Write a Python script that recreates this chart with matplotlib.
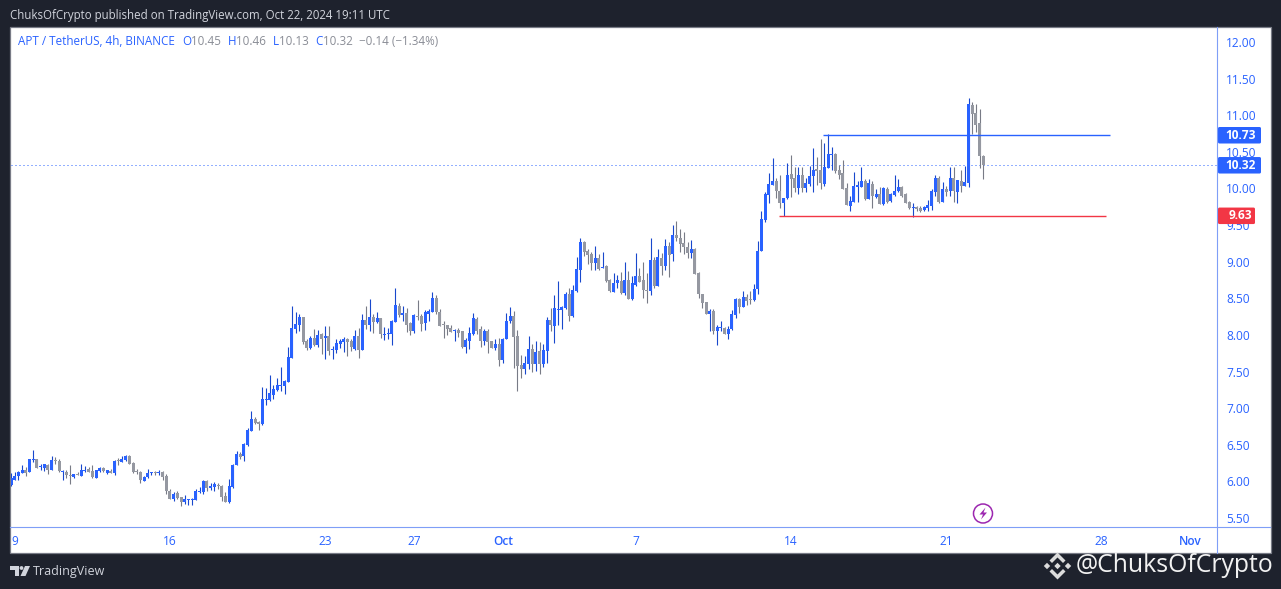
from datetime import datetime, timedelta
import matplotlib
matplotlib.use("Agg")
import matplotlib.pyplot as plt
from matplotlib.patches import Rectangle, Circle, Polygon, FancyBboxPatch

plt.rcParams['font.family'] = ['Open Sans', 'DejaVu Sans']

opens = [5.95,6.02,6.07,6.11,6.15,6.13,6.29,6.30,6.20,6.18,
6.22,6.16,6.29,6.28,6.13,6.13,6.09,6.06,6.10,6.07,
6.14,6.17,6.14,6.05,6.14,6.18,6.11,6.14,6.11,6.29,
6.27,6.29,6.35,6.25,6.14,6.13,6.01,6.06,6.11,6.13,
6.11,6.13,6.07,5.87,5.76,5.84,5.78,5.72,5.74,5.74,
5.75,5.85,5.85,6.01,5.91,5.92,5.95,5.94,5.80,5.72,
5.92,6.22,6.37,6.35,6.50,6.69,6.85,6.81,6.78,7.11,
7.11,7.18,7.25,7.30,7.30,7.36,7.68,8.08,8.14,8.24,
7.92,7.82,7.96,7.86,8.01,7.96,7.98,7.79,7.79,7.88,
7.90,7.94,7.92,7.81,7.98,7.79,8.20,8.14,8.24,8.18,
8.23,8.00,8.01,8.01,8.18,8.39,8.27,8.30,8.16,8.05,
8.26,8.26,8.16,8.29,8.31,8.50,8.31,8.15,8.14,8.09,
8.06,8.07,8.05,7.83,7.92,8.01,8.22,8.08,7.92,8.05,
7.92,7.82,7.88,7.66,7.94,8.19,8.26,7.98,7.59,7.53,
7.60,7.81,7.60,7.78,7.60,7.78,8.20,8.12,8.34,8.34,
8.37,8.56,8.26,8.60,8.89,9.27,9.15,9.11,8.98,9.05,
8.91,8.94,8.75,8.59,8.71,8.74,8.57,8.75,8.49,8.68,
8.80,8.75,8.61,8.60,9.02,8.67,9.05,8.94,9.21,9.11,
9.36,9.32,9.26,9.20,9.12,9.17,8.85,8.56,8.45,8.29,
8.33,8.05,8.09,8.09,8.01,8.08,8.27,8.49,8.38,8.52,
8.49,8.48,8.63,9.15,9.57,9.91,10.05,10.10,9.97,9.80,
9.87,10.20,10.14,10.01,10.18,10.01,10.06,10.17,10.27,10.25,
10.06,10.28,10.46,10.47,10.25,10.21,10.01,9.76,9.82,10.02,
10.02,10.10,9.86,10.06,9.88,9.92,9.79,9.99,9.83,9.91,
9.97,10.02,9.92,9.82,9.73,9.75,9.73,9.71,9.73,9.76,
9.95,10.14,9.82,9.99,9.97,10.14,9.95,10.10,10.03,10.07,11.14,11.03,10.89,10.45]

closes = [6.04,6.07,6.13,6.16,6.12,6.30,6.30,6.18,6.21,6.24,
6.16,6.29,6.28,6.14,6.14,6.09,6.08,6.10,6.09,6.16,
6.16,6.13,6.06,6.16,6.18,6.14,6.15,6.11,6.28,6.28,
6.31,6.34,6.24,6.13,6.13,6.02,6.06,6.11,6.13,6.11,
6.13,6.06,5.87,5.76,5.83,5.77,5.72,5.76,5.75,5.75,
5.87,5.87,6.01,5.91,5.94,5.96,5.94,5.79,5.72,5.94,
6.22,6.37,6.33,6.51,6.70,6.85,6.80,6.78,7.12,7.12,
7.21,7.26,7.32,7.32,7.37,7.70,8.09,8.15,8.24,7.90,
7.82,7.96,7.86,8.00,7.94,7.98,7.78,7.81,7.89,7.92,
7.94,7.90,7.83,7.98,7.79,8.20,8.14,8.24,8.18,8.23,
8.01,8.01,8.03,8.19,8.41,8.27,8.30,8.14,8.05,8.27,
8.24,8.15,8.31,8.33,8.50,8.31,8.12,8.14,8.08,8.04,
8.07,8.03,7.83,7.93,8.03,8.23,8.05,7.92,8.05,7.90,
7.82,7.88,7.66,7.94,8.19,8.26,7.97,7.58,7.53,7.62,
7.81,7.60,7.77,7.60,7.79,8.20,8.14,8.37,8.35,8.38,
8.56,8.26,8.61,8.90,9.27,9.13,9.09,8.98,9.05,8.90,
8.93,8.74,8.60,8.71,8.75,8.57,8.75,8.49,8.71,8.80,
8.72,8.61,8.60,9.02,8.67,9.06,8.94,9.21,9.09,9.36,
9.32,9.24,9.20,9.12,9.17,8.83,8.56,8.44,8.29,8.33,
8.05,8.11,8.11,8.01,8.08,8.29,8.49,8.38,8.52,8.46,
8.48,8.63,9.15,9.58,9.92,10.06,10.10,9.97,9.80,9.87,
10.18,10.13,10.01,10.18,10.01,10.07,10.17,10.25,10.24,10.07,
10.29,10.47,10.47,10.24,10.18,9.99,9.77,9.83,10.03,10.05,
10.10,9.86,10.07,9.90,9.92,9.79,10.01,9.82,9.92,9.97,
10.02,9.90,9.80,9.73,9.75,9.72,9.69,9.75,9.77,9.97,
10.14,9.82,9.99,9.95,10.14,9.97,10.12,10.03,10.09,11.15,11.02,10.87,10.44,10.32]

highs = [6.12,6.13,6.14,6.22,6.19,6.30,6.43,6.30,6.24,6.24,
6.24,6.34,6.33,6.31,6.16,6.16,6.22,6.10,6.13,6.24,
6.21,6.20,6.22,6.16,6.20,6.20,6.16,6.17,6.29,6.32,
6.35,6.36,6.36,6.26,6.17,6.14,6.07,6.17,6.13,6.14,
6.16,6.14,6.10,5.90,5.85,5.87,5.78,5.81,5.76,5.77,
5.90,5.92,6.02,6.02,5.98,5.99,5.98,5.95,5.85,6.03,
6.24,6.41,6.40,6.52,6.73,6.96,6.88,6.82,7.29,7.27,
7.45,7.32,7.41,7.56,7.38,7.84,8.39,8.31,8.29,8.24,
7.94,7.98,8.08,8.07,8.03,8.12,8.12,7.85,7.94,7.94,
7.97,7.96,7.94,8.07,8.09,8.29,8.39,8.49,8.29,8.31,
8.23,8.11,8.09,8.20,8.64,8.44,8.39,8.37,8.18,8.29,
8.48,8.29,8.34,8.35,8.59,8.55,8.35,8.19,8.14,8.14,
8.08,8.09,8.05,7.96,8.11,8.30,8.24,8.12,8.08,8.08,
7.92,7.94,7.96,7.96,8.30,8.38,8.33,8.07,7.73,7.71,
7.98,7.88,7.92,7.90,7.88,8.24,8.37,8.55,8.74,8.40,
8.59,8.64,8.68,9.06,9.32,9.28,9.17,9.13,9.21,9.11,
9.13,8.96,8.76,8.85,8.82,8.86,9.00,8.87,8.80,9.12,
8.91,9.00,8.85,9.32,9.06,9.17,9.12,9.31,9.27,9.50,
9.56,9.45,9.41,9.27,9.30,9.19,8.86,8.56,8.45,8.35,
8.35,8.14,8.19,8.11,8.12,8.34,8.50,8.50,8.60,8.56,
8.60,8.70,9.28,9.69,9.95,10.21,10.42,10.14,10.18,9.87,
10.35,10.46,10.29,10.29,10.29,10.14,10.31,10.55,10.43,10.68,
10.62,10.74,10.57,10.48,10.32,10.39,10.07,9.90,10.22,10.10,
10.29,10.13,10.13,10.10,9.99,10.02,10.02,10.02,9.94,10.18,
10.13,10.03,9.94,9.83,9.80,9.76,9.76,9.76,9.84,9.99,
10.18,10.17,10.09,10.03,10.29,10.29,10.12,10.25,10.31,11.24,11.18,11.15,11.09,10.46]

lows = [5.94,6.02,6.02,6.11,6.07,6.13,6.27,6.18,6.16,6.14,
6.10,6.16,6.24,6.13,6.02,6.05,5.96,6.05,6.09,6.07,
6.13,6.13,6.05,6.05,6.13,6.13,6.10,6.11,6.09,6.22,
6.27,6.28,6.24,6.11,6.10,5.98,6.01,6.05,6.09,6.09,
6.09,6.02,5.83,5.76,5.73,5.76,5.66,5.69,5.68,5.68,
5.75,5.84,5.83,5.87,5.88,5.87,5.90,5.73,5.72,5.70,
5.91,6.22,6.31,6.28,6.48,6.69,6.78,6.70,6.77,7.04,
7.10,7.12,7.23,7.23,7.19,7.36,7.68,8.03,8.05,7.88,
7.79,7.81,7.85,7.83,7.74,7.67,7.73,7.67,7.75,7.82,
7.77,7.71,7.78,7.79,7.68,7.79,8.08,8.05,8.03,8.16,
7.96,7.93,7.94,7.86,8.18,8.24,8.19,8.04,8.00,8.03,
8.20,8.05,8.07,8.19,8.31,8.29,8.12,7.96,8.00,8.04,
7.92,7.97,7.82,7.75,7.81,8.00,8.01,7.83,7.86,7.75,
7.82,7.79,7.58,7.62,7.94,8.16,7.55,7.23,7.41,7.47,
7.53,7.49,7.51,7.47,7.56,7.62,8.05,7.89,8.14,8.08,
8.35,8.19,8.24,8.59,8.72,9.08,8.97,8.89,8.89,8.89,
8.91,8.72,8.59,8.59,8.64,8.56,8.55,8.49,8.48,8.67,
8.72,8.50,8.44,8.55,8.64,8.67,8.82,8.89,8.79,9.01,
9.28,9.13,9.11,9.05,9.05,8.83,8.50,8.37,8.29,8.05,
8.01,7.86,8.05,8.01,7.94,8.07,8.23,8.30,8.38,8.41,
8.42,8.46,8.56,9.15,9.54,9.80,10.05,9.87,9.73,9.63,
9.86,9.88,9.95,9.92,9.95,9.95,10.03,9.95,10.05,9.99,
10.03,10.28,10.25,10.21,10.13,9.99,9.77,9.69,9.82,9.82,
10.02,9.84,9.86,9.73,9.87,9.79,9.77,9.80,9.82,9.90,
9.95,9.88,9.80,9.72,9.61,9.69,9.68,9.69,9.69,9.71,
9.90,9.80,9.82,9.90,9.90,9.82,9.80,9.95,10.03,10.02,10.74,10.77,10.28,10.13]

price_ticks = [5.5,6.0,6.5,7.0,7.5,8.0,8.5,9.0,9.5,10.0,10.5,11.0,11.5,12.0]
time_tick_dates = ["2024-09-09","2024-09-16","2024-09-23","2024-09-27","2024-10-01",
                   "2024-10-07","2024-10-14","2024-10-21","2024-10-28","2024-11-01"]
time_tick_labels = ["9","16","23","27","Oct","7","14","21","28","Nov"]
first_candle = "2024-09-08 20:00"
resistance = 10.73
support = 9.63
last_close = 10.32
resistance_span = ["2024-10-15 10:30", "2024-10-28 09:12"]
support_span = ["2024-10-13 10:48", "2024-10-28 04:48"]

BLUE, BLUE_WICK = '#2962ff', '#1848cc'
GREY, GREY_WICK = '#9598a1', '#787b86'
RED = '#f23645'
DARK = '#1e222d'
AXIS = '#7f9ef7'

W, H = 1281, 589
fig = plt.figure(figsize=(W/100, H/100), dpi=100, facecolor=DARK)

def frac(l, t, r, b):
    return [l/W, 1-b/H, (r-l)/W, (b-t)/H]

# pixel-space background panel
bg = fig.add_axes([0, 0, 1, 1], zorder=0)
bg.set_xlim(0, W); bg.set_ylim(H, 0); bg.axis('off')
bg.add_patch(Rectangle((10, 27), 1260.5, 526, fc='white', ec='#787b86', lw=0.9))

# chart
ax = fig.add_axes(frac(11, 27, 1217, 526.5), zorder=1)
ax.patch.set_alpha(0)
t0 = datetime.fromisoformat(first_candle)
def idx(s):
    return (datetime.fromisoformat(s) - t0) / timedelta(hours=4)

PX = 3.697
ax.set_xlim(0, (1217-11)/PX)
ax.set_ylim(12 - (526.5-42)/73.23, 12 + 15/73.23)
min_h = 1/73.23
for i, (o, h, l, c) in enumerate(zip(opens, highs, lows, closes)):
    up = c >= o
    ax.vlines(i, l, h, color=BLUE_WICK if up else GREY_WICK, lw=0.8, zorder=2)
    bot, top = min(o, c), max(o, c)
    ax.bar(i, max(top-bot, min_h), bottom=bot, width=0.8115,
           color=BLUE if up else GREY, lw=0, zorder=3)

ax.hlines(resistance, idx(resistance_span[0]), idx(resistance_span[1]), color=BLUE, lw=1.0, zorder=4)
ax.hlines(support, idx(support_span[0]), idx(support_span[1]), color=RED, lw=1.0, zorder=4)
ax.axhline(last_close, color=BLUE, lw=0.72, ls=(0, (1, 3)), zorder=1)

for s in ax.spines.values():
    s.set_visible(False)
ax.yaxis.tick_right()
ax.set_yticks(price_ticks, [f"{p:.2f}" for p in price_ticks])
ax.tick_params(axis='y', length=0, pad=6.6, labelcolor=BLUE, labelsize=8.6)
ax.set_xticks([idx(d) for d in time_tick_dates], time_tick_labels)
ax.tick_params(axis='x', length=0, pad=6, labelcolor=BLUE, labelsize=8.6)
for lab, txt in zip(ax.get_xticklabels(), time_tick_labels):
    if txt in ("Oct", "Nov"):
        lab.set_fontweight('semibold')

# overlay in pixel coordinates
ov = fig.add_axes([0, 0, 1, 1], zorder=5)
ov.set_xlim(0, W); ov.set_ylim(H, 0); ov.axis('off'); ov.patch.set_alpha(0)
ov.plot([1217, 1217], [27, 553], color=AXIS, lw=0.8)
ov.plot([10, 1270], [526.5, 526.5], color=AXIS, lw=0.8)

def price_box(val, color, right):
    y = H - ax.transData.transform((0, val))[1]
    ov.add_patch(FancyBboxPatch((1218, y-8), right-1218, 16.5, boxstyle="round,pad=0,rounding_size=1.5",
                                fc=color, ec='none'))
    ov.text(1241 if right > 1258 else 1240, y+0.3, f"{val:.2f}", color='white', fontsize=8.6, fontweight='bold',
            ha='center', va='center')
price_box(resistance, BLUE, 1261)
price_box(last_close, BLUE, 1261)
price_box(support, RED, 1255)

# header
ov.text(10, 15, "ChuksOfCrypto published on TradingView.com, Oct 22, 2024 19:11 UTC",
        color='#d1d4dc', fontsize=8.3, va='center', ha='left')
LG = '#8a8d96'
ov.text(18, 41.5, "APT / TetherUS, 4h, BINANCE", color=BLUE, fontsize=8.4, va='center')
for x, s, col in [(182, "O", BLUE), (191, "10.45", LG), (228, "H", BLUE), (236, "10.46", LG),
                  (273, "L", BLUE), (279, "10.13", LG), (315, "C", BLUE), (323, "10.32", LG),
                  (359, "−0.14 (−1.34%)", LG)]:
    ov.text(x, 41.5, s, color=col, fontsize=8.4, va='center')

# flash icon
PUR = '#9c27b0'
ov.add_patch(Circle((983, 513.5), 9.5, fc='white', ec=PUR, lw=1.1))
ov.add_patch(Polygon([(985.5, 507.5), (979.5, 514.5), (983, 514.5), (981, 519.5), (987, 512.5), (983.5, 512.5)],
                     fc=PUR, ec='none'))

# TradingView logo
LOGO = '#d1d4dc'
ov.add_patch(Polygon([(10, 566), (19, 566), (19, 576), (15, 576), (15, 570), (10, 570)], fc=LOGO, ec='none'))
ov.add_patch(Circle((21.5, 568), 1.9, fc=LOGO, ec='none'))
ov.add_patch(Polygon([(25, 566), (30, 566), (25.5, 576), (20.5, 576)], fc=LOGO, ec='none'))
ov.text(33, 571.5, "TradingView", color=LOGO, fontsize=9.0, va='center', ha='left')

# Binance mark
BN = '#dcdcdc'
cx, cy = 1057.5, 566
def diamond(x, y, r):
    ov.add_patch(Polygon([(x-r, y), (x, y-r), (x+r, y), (x, y+r)], fc=BN, ec='none'))
diamond(cx, cy, 3.2); diamond(cx-10.5, cy, 3.2); diamond(cx+10.5, cy, 3.2)
ov.add_patch(Polygon([(cx-8, cy-5.5), (cx, cy-13.5), (cx+8, cy-5.5), (cx+5.5, cy-3), (cx, cy-8.5), (cx-5.5, cy-3)], fc=BN, ec='none'))
ov.add_patch(Polygon([(cx-8, cy+5.5), (cx, cy+13.5), (cx+8, cy+5.5), (cx+5.5, cy+3), (cx, cy+8.5), (cx-5.5, cy+3)], fc=BN, ec='none'))
ov.text(1076, 566, "@ChuksOfCrypto", color='#f2f2f2', fontsize=17.8, va='center', ha='left')

fig.savefig("out.png", dpi=100, facecolor=DARK)
